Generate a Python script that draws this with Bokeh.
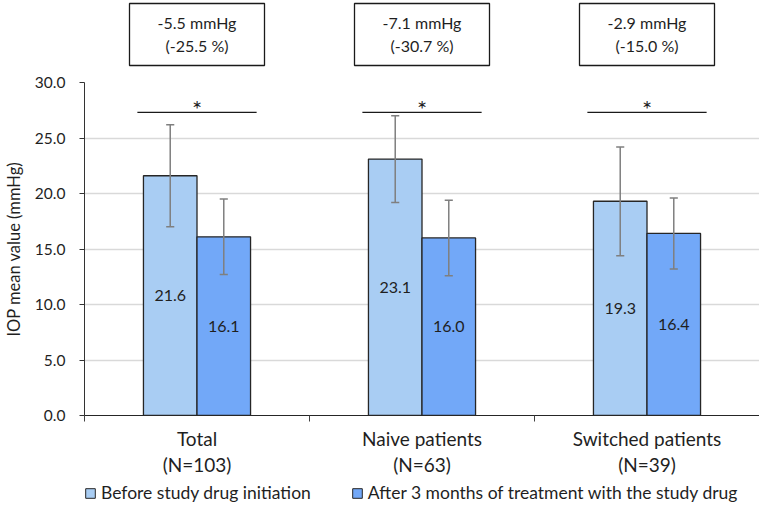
from bokeh.plotting import figure
from bokeh.models import (Range1d, FixedTicker, Legend, LegendItem, ColumnDataSource,
                          CustomJSTickFormatter)
from bokeh.layouts import column
from bokeh.embed import file_html
from bokeh.resources import INLINE
from bokeh.core.properties import value

# ---------------- data ----------------
groups = ["Total\n(N=103)", "Naive patients\n(N=63)", "Switched patients\n(N=39)"]
before_vals = [21.6, 23.1, 19.3]
before_sd = [4.6, 3.9, 4.9]
after_vals = [16.1, 16.0, 16.4]
after_sd = [3.4, 3.4, 3.2]
diff_labels = ["-5.5 mmHg", "-7.1 mmHg", "-2.9 mmHg"]
pct_labels = ["(-25.5 %)", "(-30.7 %)", "(-15.0 %)"]
sig_level = [27.3, 27.3, 27.3]
sig_marks = ["*", "*", "*"]
series_names = ["Before study drug initiation", "After 3 months of treatment with the study drug"]
y_ticks = [0, 5, 10, 15, 20, 25, 30]

FONT = "Lato"
C_BEFORE = "#A9CDF3"
C_AFTER = "#72A8F8"
EDGE = "#262626"
ERR = "#7f7f7f"
TXT = "#1f1f1f"

n = len(groups)
centers = [i + 0.5 for i in range(n)]
BW = 0.238
OFF = BW / 2
xb = [c - OFF for c in centers]
xa = [c + OFF for c in centers]

W = 759
LEFT = 79

xr = Range1d(0, n)

# ---------------- top strip with boxes ----------------
top = figure(width=W, height=74, x_range=xr, y_range=Range1d(74, 0),
             x_axis_type=None, y_axis_type=None, toolbar_location=None,
             output_backend="svg", min_border_left=LEFT, min_border_right=0,
             min_border_top=0, min_border_bottom=0, outline_line_color=None)
top.xgrid.visible = False
top.ygrid.visible = False
top.quad(left=[c - 0.3 for c in centers], right=[c + 0.3 for c in centers],
         top=[3] * n, bottom=[65] * n, fill_color="white",
         line_color="#1a1a1a", line_width=1.3)
top.text(x=centers, y=[22] * n, text=diff_labels, text_font=value(FONT),
         text_font_size="16px", text_align="center", text_baseline="middle",
         text_color=TXT)
top.text(x=centers, y=[45] * n, text=pct_labels, text_font=value(FONT),
         text_font_size="16px", text_align="center", text_baseline="middle",
         text_color=TXT)

# ---------------- main chart ----------------
p = figure(width=W, height=405, x_range=xr, y_range=Range1d(0, 30),
           toolbar_location=None, output_backend="svg",
           min_border_left=LEFT, min_border_right=0, min_border_top=8,
           min_border_bottom=64, outline_line_color=None)

src_b = ColumnDataSource(dict(x=xb, top=before_vals))
src_a = ColumnDataSource(dict(x=xa, top=after_vals))
p.vbar(x="x", top="top", width=BW, source=src_b, fill_color=C_BEFORE,
       line_color=EDGE, line_width=1.3)
p.vbar(x="x", top="top", width=BW, source=src_a, fill_color=C_AFTER,
       line_color=EDGE, line_width=1.3)

# error bars
cap = 0.018
for xs, vals, sds in ((xb, before_vals, before_sd), (xa, after_vals, after_sd)):
    lo = [v - s for v, s in zip(vals, sds)]
    hi = [v + s for v, s in zip(vals, sds)]
    p.segment(x0=xs, x1=xs, y0=lo, y1=hi, line_color=ERR, line_width=1.5)
    p.segment(x0=[x - cap for x in xs], x1=[x + cap for x in xs], y0=lo, y1=lo,
              line_color=ERR, line_width=1.5)
    p.segment(x0=[x - cap for x in xs], x1=[x + cap for x in xs], y0=hi, y1=hi,
              line_color=ERR, line_width=1.5)

# value labels
p.text(x=xb, y=[v / 2 for v in before_vals], text=[f"{v:.1f}" for v in before_vals],
       text_font=value(FONT), text_font_size="16px", text_align="center",
       text_baseline="middle", text_color=TXT)
p.text(x=xa, y=[v / 2 for v in after_vals], text=[f"{v:.1f}" for v in after_vals],
       text_font=value(FONT), text_font_size="16px", text_align="center",
       text_baseline="middle", text_color=TXT)

# significance lines
p.segment(x0=[c - 0.265 for c in centers], x1=[c + 0.265 for c in centers],
          y0=sig_level, y1=sig_level, line_color="#1a1a1a", line_width=1.2)
p.text(x=centers, y=[s + 0.35 for s in sig_level], text=sig_marks, text_font=value(FONT),
       text_font_size="24px", text_align="center", text_baseline="alphabetic",
       text_color=TXT)

# axes
p.xgrid.visible = False
p.ygrid.ticker = FixedTicker(ticks=y_ticks)
p.ygrid.grid_line_color = "#d9d9d9"
p.ygrid.grid_line_width = 1.5

p.yaxis.ticker = FixedTicker(ticks=y_ticks)
p.yaxis.formatter = CustomJSTickFormatter(code="return tick.toFixed(1);")
p.yaxis.axis_line_color = "#333333"
p.yaxis.major_tick_line_color = "#333333"
p.yaxis.major_tick_out = 5
p.yaxis.major_tick_in = 0
p.yaxis.minor_tick_line_color = None
p.yaxis.major_label_text_font = FONT
p.yaxis.major_label_text_font_size = "15.5px"
p.yaxis.major_label_text_color = TXT
p.yaxis.major_label_standoff = 14
p.yaxis.axis_label = "IOP mean value (mmHg)"
p.yaxis.axis_label_text_font = FONT
p.yaxis.axis_label_text_font_size = "16.5px"
p.yaxis.axis_label_text_font_style = "normal"
p.yaxis.axis_label_text_color = TXT
p.yaxis.axis_label_standoff = 8

p.xaxis.ticker = FixedTicker(ticks=centers, minor_ticks=list(range(n + 1)))
p.xaxis.major_label_overrides = {c: g for c, g in zip(centers, groups)}
p.xaxis.axis_line_color = "#262626"
p.xaxis.major_tick_line_color = None
p.xaxis.major_tick_out = 0
p.xaxis.major_tick_in = 0
p.xaxis.minor_tick_line_color = "#404040"
p.xaxis.minor_tick_out = 6
p.xaxis.minor_tick_in = 0
p.xaxis.major_label_text_font = FONT
p.xaxis.major_label_text_font_size = "19px"
p.xaxis.major_label_text_color = TXT
p.xaxis.major_label_text_line_height = 1.14
p.xaxis.major_label_standoff = 5

# ---------------- legend strip ----------------
leg = figure(width=W, height=27, x_range=Range1d(0, 1), y_range=Range1d(0, 1),
             x_axis_type=None, y_axis_type=None, toolbar_location=None,
             output_backend="svg", min_border_left=LEFT, min_border_right=0,
             min_border_top=0, min_border_bottom=0, outline_line_color=None)
leg.xgrid.visible = False
leg.ygrid.visible = False
lb = leg.vbar(x=[-5], top=[0], width=0.1, fill_color=C_BEFORE,
              line_color=EDGE, line_width=1.0)
la = leg.vbar(x=[-5], top=[0], width=0.1, fill_color=C_AFTER,
              line_color=EDGE, line_width=1.0)
legend = Legend(items=[LegendItem(label=series_names[0], renderers=[lb]),
                       LegendItem(label=series_names[1], renderers=[la])],
                orientation="horizontal", location=(0, 3),
                label_text_font=FONT, label_text_font_size="17.5px",
                label_text_color=TXT, glyph_width=12, glyph_height=12,
                label_standoff=5, spacing=40, padding=0, margin=0,
                background_fill_alpha=0, border_line_color=None)
leg.add_layout(legend, "center")

layout = column(top, p, leg, spacing=0)
open("out.html", "w").write(file_html(layout, INLINE))
